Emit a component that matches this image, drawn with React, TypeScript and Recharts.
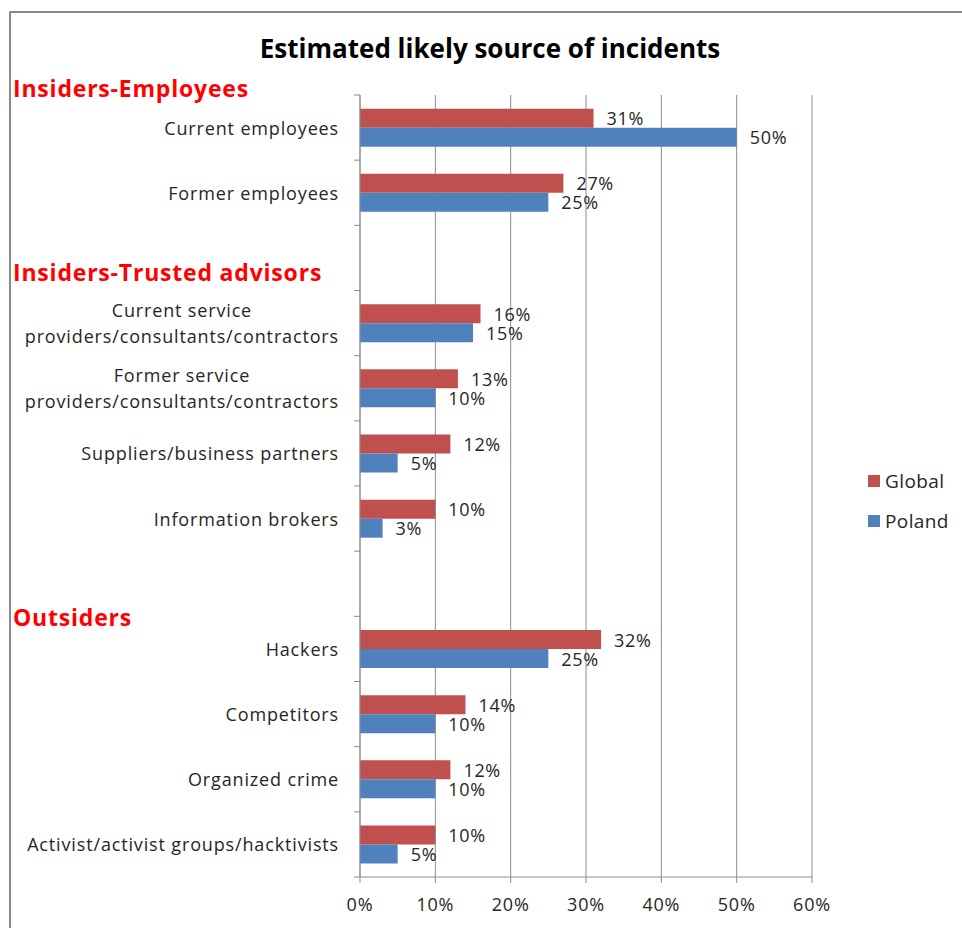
import React from 'react';
import { BarChart, Bar, XAxis, YAxis, CartesianGrid, LabelList, Legend } from 'recharts';

const categories: string[] = [
  'Current employees',
  'Former employees',
  '',
  'Current service\nproviders/consultants/contractors',
  'Former service\nproviders/consultants/contractors',
  'Suppliers/business partners',
  'Information brokers',
  '',
  'Hackers',
  'Competitors',
  'Organized crime',
  'Activist/activist groups/hacktivists',
];
const globalValues: (number | null)[] = [31, 27, null, 16, 13, 12, 10, null, 32, 14, 12, 10];
const polandValues: (number | null)[] = [50, 25, null, 15, 10, 5, 3, null, 25, 10, 10, 5];
const xTicks: number[] = [0, 10, 20, 30, 40, 50, 60];

const sectionHeaders = [
  { text: 'Insiders-Employees', top: 96.5 },
  { text: 'Insiders-Trusted advisors', top: 281 },
  { text: 'Outsiders', top: 626 },
];

const data = categories.map((c, i) => ({
  key: `c${i}`,
  label: c,
  Global: globalValues[i],
  Poland: polandValues[i],
}));

const FONT = '"Open Sans", Lato, sans-serif';
const TEXT = '#262626';
const GRID = '#8c8c8c';
const RED = '#C0504D';
const BLUE = '#4F81BD';

const CatTick = (props: any) => {
  const { x, y, payload, index } = props;
  const idx = typeof index === 'number' ? index : payload.index;
  const label = categories[idx] || '';
  const half = payload && payload.offset ? payload.offset : 32.6;
  const lines = label.split('\n');
  const isLast = idx === categories.length - 1;
  return (
    <g>
      <line x1={x - 6} x2={x} y1={y - half} y2={y - half} stroke={GRID} strokeWidth={1} />
      {isLast && <line x1={x - 6} x2={x} y1={y + half} y2={y + half} stroke={GRID} strokeWidth={1} />}
      {label && (
        <foreignObject x={x - 21 - 345} y={y - 32} width={345} height={64}>
          <div
            style={{
              display: 'flex',
              justifyContent: 'flex-end',
              alignItems: 'center',
              height: '100%',
              fontFamily: FONT,
              fontSize: 18,
              letterSpacing: '0.85px',
              color: TEXT,
            }}
          >
            <div style={{ textAlign: 'center', lineHeight: '26px', whiteSpace: 'nowrap' }}>
              {lines.map((l, k) => (
                <div key={k}>{l}</div>
              ))}
            </div>
          </div>
        </foreignObject>
      )}
    </g>
  );
};

const makeLabel = () => (props: any) => {
  const { x, y, width, height, value } = props;
  if (value === null || value === undefined) return null;
  return (
    <text
      x={Number(x) + Number(width) + 13}
      y={Number(y) + Number(height) / 2}
      dominantBaseline="central"
      fontFamily={FONT}
      fontSize={18}
      letterSpacing={0.7}
      fill={TEXT}
    >
      {`${value}%`}
    </text>
  );
};

const XTick = (props: any) => {
  const { x, y, payload } = props;
  return (
    <text
      x={x}
      y={y}
      dy="0.71em"
      textAnchor="middle"
      fontFamily={FONT}
      fontSize={18}
      letterSpacing={0.8}
      fill={TEXT}
    >
      {`${payload.value}%`}
    </text>
  );
};

const LegendContent = () => (
  <div style={{ fontFamily: FONT, fontSize: 19, letterSpacing: '0.4px', color: TEXT }}>
    {[
      { name: 'Global', color: RED },
      { name: 'Poland', color: BLUE },
    ].map((it, i) => (
      <div key={it.name} style={{ display: 'flex', alignItems: 'center', height: 26, marginBottom: i === 0 ? 14 : 0 }}>
        <div style={{ width: 12, height: 12, background: it.color, marginRight: 5 }} />
        <span>{it.name}</span>
      </div>
    ))}
  </div>
);

export default function App() {
  return (
    <div style={{ position: 'absolute', left: 0, top: 0, width: 962, height: 928, background: '#fff', overflow: 'hidden' }}>
      <div
        style={{
          position: 'absolute',
          left: 9,
          top: 11,
          width: 1100,
          height: 1100,
          borderLeft: '2px solid #8a8a8a',
          borderTop: '2px solid #8a8a8a',
          boxSizing: 'border-box',
        }}
      />
      <BarChart
        width={962}
        height={928}
        data={data}
        layout="vertical"
        margin={{ top: 95, right: 150, bottom: 21, left: 10 }}
        barCategoryGap="21%"
        barGap={0}
      >
        <CartesianGrid horizontal={false} vertical={true} stroke={GRID} strokeWidth={1} />
        <XAxis
          type="number"
          domain={[0, 60]}
          ticks={xTicks}
          axisLine={{ stroke: GRID }}
          tickLine={{ stroke: GRID }}
          tickSize={6}
          tickMargin={15}
          height={30}
          tick={<XTick />}
          interval={0}
        />
        <YAxis
          type="category"
          dataKey="key"
          width={350}
          axisLine={{ stroke: GRID }}
          tickLine={false}
          tickSize={0}
          tickMargin={0}
          interval={0}
          tick={<CatTick />}
        />
        <Legend
          layout="horizontal"
          verticalAlign="middle"
          align="center"
          content={<LegendContent />}
          wrapperStyle={{ position: 'absolute', left: 868, top: 468, width: 94 }}
        />
        <Bar dataKey="Global" fill={RED} isAnimationActive={false}>
          <LabelList dataKey="Global" content={makeLabel()} />
        </Bar>
        <Bar dataKey="Poland" fill={BLUE} isAnimationActive={false}>
          <LabelList dataKey="Poland" content={makeLabel()} />
        </Bar>
      </BarChart>
      <svg width={962} height={928} style={{ position: 'absolute', left: 0, top: 0, pointerEvents: 'none' }}>
        <text x={490} y={58} textAnchor="middle" fontFamily={FONT} fontWeight="bold" fontSize={26} fill="#000">
          Estimated likely source of incidents
        </text>
        {sectionHeaders.map((h) => (
          <text
            key={h.text}
            x={13}
            y={h.top}
            fontFamily={FONT}
            fontWeight="bold"
            fontSize={23}
            letterSpacing={0.8}
            fill="#ff0000"
          >
            {h.text}
          </text>
        ))}
      </svg>
    </div>
  );
}
